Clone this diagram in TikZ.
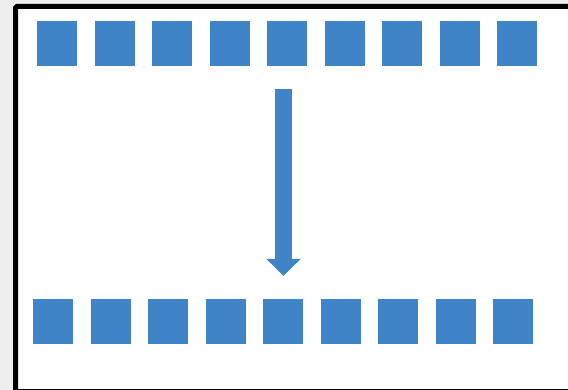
\documentclass[tikz,border=0pt]{standalone}
\usepackage{xcolor}
\usepackage{tikz}
\usetikzlibrary{positioning,arrows.meta}
\definecolor{blue500}{HTML}{3E84C6}
\definecolor{gray100}{HTML}{EEEEEE}
\tikzset{
  cell/.style={
    rectangle, fill=blue500, inner sep=0pt,
    minimum width=40pt, minimum height=45pt
  },
  bigarrow/.style={
    -{Triangle[length=17pt,width=33pt]},
    line width=17pt, draw=blue500
  },
}
\begin{document}
\begin{tikzpicture}[x=1pt,y=-1pt]
  \useasboundingbox (0,0) rectangle (568,390);
  \clip (0,0) rectangle (568,390);
  \fill[gray100] (0,0) rectangle (568,390);
  \draw[line width=5pt, fill=white, rounded corners=1.5pt] (15.5,6.5) rectangle (600,391.5);
  % top row
  \foreach \i in {1,...,9}
    \node[cell] (top\i) at ({57+(\i-1)*57.5},43.5) {};
  % bottom row
  \foreach \i in {1,...,9}
    \node[cell] (bot\i) at ({53+(\i-1)*57.5},321.5) {};
  \coordinate (start) at (283.5,89);
  \coordinate (tip) at (283.5,276);
  \draw[bigarrow] (start) -- (tip);
\end{tikzpicture}
\end{document}
